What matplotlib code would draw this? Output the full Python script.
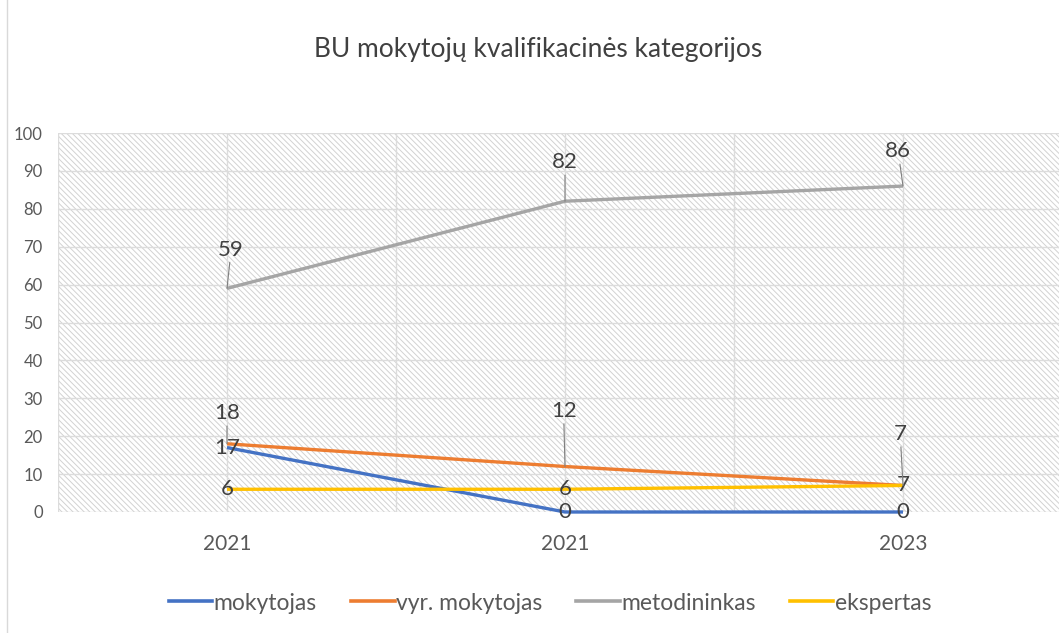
import matplotlib
matplotlib.use("Agg")
import matplotlib.pyplot as plt
from matplotlib.patches import Rectangle
from matplotlib.lines import Line2D

plt.rcParams['font.family'] = ['Lato', 'DejaVu Sans']
plt.rcParams['hatch.linewidth'] = 0.7

years = ["2021", "2021", "2023"]
series_names = ["mokytojas", "vyr. mokytojas", "metodininkas", "ekspertas"]
mokytojas = [17, 0, 0]
vyr_mokytojas = [18, 12, 7]
metodininkas = [59, 82, 86]
ekspertas = [6, 6, 7]
colors = ["#4472C4", "#ED7D31", "#A5A5A5", "#FFC000"]

fig = plt.figure(figsize=(10.59, 6.33), dpi=100)
ax = fig.add_axes([58 / 1059, 121 / 633, 1014 / 1059, 379 / 633])

# hatched plot area
ax.patch.set_facecolor("white")
bg = Rectangle((0, 0), 1, 1, transform=ax.transAxes, facecolor="white",
               edgecolor="#d2d2d2", hatch="\\" * 6, linewidth=0, zorder=0)
ax.add_patch(bg)

x = list(range(len(years)))
ax.set_xlim(-0.5, 2.5)
ax.set_ylim(0, 100)
ax.set_yticks(range(0, 101, 10))
ax.set_xticks(x)
ax.set_xticklabels(years)
for gx in [-0.5, 0, 0.5, 1, 1.5, 2, 2.5]:
    ax.axvline(gx, color="#dcdcdc", lw=1, zorder=1)
for gy in range(0, 101, 10):
    ax.axhline(gy, color="#dcdcdc", lw=1, zorder=1)
for s in ax.spines.values():
    s.set_visible(False)
ax.tick_params(length=0)
ax.tick_params(axis="y", labelsize=12, labelcolor="#595959", pad=11)
ax.tick_params(axis="x", labelsize=15, labelcolor="#595959", pad=16)

all_series = [mokytojas, vyr_mokytojas, metodininkas, ekspertas]
for name, vals, c in zip(series_names, all_series, colors):
    ax.plot(x, vals, color=c, lw=2.4, label=name, zorder=3,
            solid_capstyle="butt", clip_on=False)

lab_kw = dict(fontsize=16, color="#404040", zorder=5)
# labels sitting on the points
for vals in [mokytojas, ekspertas]:
    for xi, v in zip(x, vals):
        ax.annotate(str(v), (xi, v), ha="center", va="center",
                    annotation_clip=False, **lab_kw)
# labels above the points with leader lines
offsets = {
    "vyr": [(0, 22), (-1, 40), (-2, 37)],
    "met": [(3, 28), (0, 28), (-3.5, 25)],
}
for vals, offs in [(vyr_mokytojas, offsets["vyr"]), (metodininkas, offsets["met"])]:
    for xi, v, o in zip(x, vals, offs):
        ax.annotate(str(v), (xi, v), xytext=o, textcoords="offset points",
                    ha="center", va="center",
                    arrowprops=dict(arrowstyle="-", color="#7f7f7f", lw=0.8,
                                    shrinkA=0, shrinkB=0), **lab_kw)

fig.text(538 / 1059, 1 - 50 / 633, "BU mokytojų kvalifikacinės kategorijos",
         ha="center", va="center", fontsize=19, color="#404040")

handles = [Line2D([], [], color=c, lw=2.6) for c in colors]
fig.legend(handles, series_names, loc="center", bbox_to_anchor=(550 / 1059, 1 - 603 / 633),
           ncol=4, frameon=False, handlelength=1.9, handletextpad=0.05,
           columnspacing=1.5, fontsize=16.5, labelcolor="#595959")

fig.add_artist(Line2D([7 / 1059, 7 / 1059], [0, 1], color="#d9d9d9", lw=1,
                      transform=fig.transFigure))

fig.savefig("out.png", dpi=100)
